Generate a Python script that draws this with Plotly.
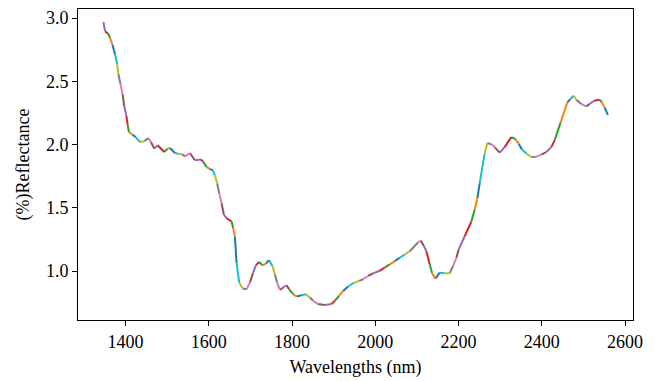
import plotly.graph_objects as go

wavelengths = [
    1347, 1351, 1359, 1363, 1368.6, 1375, 1380, 1383, 1388, 1393,
    1397, 1402, 1405.5, 1408.4, 1416.3, 1424.5, 1434.8, 1445.1, 1454.7, 1461.2,
    1469.1, 1477.3, 1493.1, 1501.3, 1506.8, 1518.8, 1526.7, 1536.3, 1542.8, 1554.8,
    1566.8, 1581.2, 1586.7, 1594.9, 1602, 1609.3, 1614.8, 1620.3, 1625.1, 1630.9,
    1636.4, 1642.9, 1654.9, 1658.7, 1662.8, 1666.9, 1673.1, 1681.3, 1690.9, 1698.8,
    1706.7, 1713.2, 1721.1, 1729.3, 1737.2, 1744.4, 1753.3, 1758.8, 1764.3, 1770.8,
    1778.7, 1786.9, 1793.1, 1802.7, 1810.8, 1822.9, 1833.2, 1842.8, 1850.7, 1862.7,
    1878.8, 1894.8, 1902.8, 1913.1, 1922.7, 1934.7, 1946.7, 1961.1, 1970.7, 1982.7,
    1994.7, 2009.1, 2022.7, 2034.7, 2046.8, 2058.8, 2070.8, 2082.8, 2102.7, 2109.2,
    2117.1, 2122.8, 2130.7, 2136.3, 2144.4, 2154.7, 2166.7, 2178.7, 2186.7, 2194.8,
    2200.3, 2214.7, 2230.8, 2238.7, 2245.2, 2250.7, 2262.7, 2269.2, 2278.8, 2286.7,
    2298.7, 2310.7, 2326.8, 2337.1, 2344.4, 2352.3, 2362.8, 2374.8, 2384.4, 2398.8,
    2410.8, 2422.8, 2430.8, 2445.2, 2461.2, 2468.4, 2476.3, 2482.8, 2494.8, 2506.8,
    2514.7, 2525.1, 2538.7, 2544.3, 2550.7, 2558.6,
]

reflectance = [
    2.969, 2.896, 2.875, 2.843, 2.791, 2.713, 2.635, 2.556, 2.478, 2.399,
    2.307, 2.229, 2.151, 2.098, 2.080, 2.059, 2.020, 2.027, 2.051, 2.020,
    1.968, 1.995, 1.941, 1.968, 1.973, 1.933, 1.928, 1.923, 1.907, 1.933,
    1.876, 1.882, 1.863, 1.824, 1.808, 1.798, 1.758, 1.693, 1.615, 1.536,
    1.445, 1.419, 1.392, 1.340, 1.275, 1.066, 0.909, 0.862, 0.856, 0.909,
    0.987, 1.045, 1.071, 1.045, 1.058, 1.086, 1.039, 0.974, 0.909, 0.851,
    0.870, 0.888, 0.856, 0.817, 0.799, 0.809, 0.817, 0.791, 0.765, 0.739,
    0.731, 0.739, 0.765, 0.804, 0.843, 0.878, 0.904, 0.922, 0.935, 0.961,
    0.982, 1.000, 1.027, 1.053, 1.078, 1.105, 1.131, 1.157, 1.227, 1.241,
    1.196, 1.157, 1.053, 0.987, 0.940, 0.987, 0.982, 0.982, 1.039, 1.105,
    1.170, 1.275, 1.392, 1.484, 1.576, 1.693, 1.929, 2.012, 2.002, 1.980,
    1.936, 1.980, 2.059, 2.041, 2.007, 1.962, 1.929, 1.902, 1.902, 1.921,
    1.941, 1.980, 2.033, 2.176, 2.333, 2.360, 2.386, 2.355, 2.321, 2.302,
    2.321, 2.347, 2.355, 2.333, 2.294, 2.235,
]

x_ticks = [1400, 1600, 1800, 2000, 2200, 2400, 2600]
y_ticks = [1.0, 1.5, 2.0, 2.5, 3.0]
x_label = "Wavelengths (nm)"
y_label = "(%)Reflectance"

tab10 = ["#1f77b4", "#ff7f0e", "#2ca02c", "#d62728", "#9467bd",
         "#8c564b", "#e377c2", "#7f7f7f", "#bcbd22", "#17becf"]

fig = go.Figure()
n = len(wavelengths)
# segments drawn from the right end to the left, cycling colours
for k in range(n - 1):
    i = n - 2 - k
    fig.add_trace(go.Scatter(
        x=wavelengths[i:i + 2], y=reflectance[i:i + 2],
        mode="lines", line=dict(color=tab10[k % 10], width=2),
        showlegend=False, hoverinfo="skip"))

font = dict(family="Liberation Serif, Times New Roman, serif", size=18, color="black")
axis_common = dict(showgrid=False, zeroline=False, showline=True, linecolor="black",
                   linewidth=1, mirror=True, ticks="outside", ticklen=5, tickwidth=1,
                   tickcolor="black", tickfont=font)

fig.update_layout(
    width=659, height=381,
    margin=dict(l=78, r=26, t=8, b=60),
    paper_bgcolor="white", plot_bgcolor="white",
    font=font,
    xaxis=dict(range=[1286, 2619], tickvals=x_ticks, ticktext=[str(v) for v in x_ticks],
               title=dict(text=x_label, font=font, standoff=9), **axis_common),
    yaxis=dict(range=[0.613, 3.072], tickvals=y_ticks, ticktext=[f"{v:.1f}" for v in y_ticks],
               title=dict(text=y_label, font=font, standoff=11), **axis_common),
)

fig.write_html("out.html")
